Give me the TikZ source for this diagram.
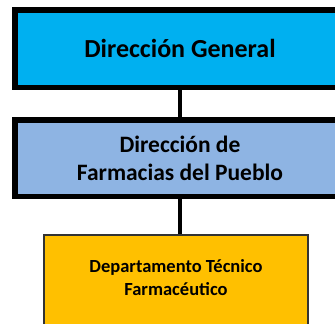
\documentclass[tikz,border=0pt]{standalone}
\usepackage{fontspec}
\setmainfont{Carlito}
\definecolor{dirGen}{HTML}{00B0F0}
\definecolor{dirFarm}{HTML}{8EB4E3}
\definecolor{depTec}{HTML}{FFC000}
\begin{document}
\begin{tikzpicture}[
    x=1pt, y=1pt,
    box/.style={draw=black, line width=5.5pt, align=center, inner sep=0pt,
        font=\fontsize{23.5}{28}\selectfont\bfseries},
    conn/.style={line width=4.5pt, black},
]
\useasboundingbox (0, 0) rectangle (335, 324);
\clip (0, 0) rectangle (335, 324);

% === Top level ===
\node[box, fill=dirGen, minimum width=330, minimum height=77.5,
      font=\fontsize{26}{30}\selectfont\bfseries]
    (general) at (180, 275.25) {Dirección General};

% === Second level ===
\node[box, fill=dirFarm, minimum width=330, minimum height=76.5]
    (farmacias) at (180, 165.75) {Dirección de\\Farmacias del Pueblo};

% === Third level (smaller box, thin border, runs off the page) ===
\node[box, fill=depTec, draw=black!80, line width=1.8pt,
      minimum width=264, minimum height=95, text depth=9pt,
      font=\fontsize{18.5}{23}\selectfont\bfseries]
    (tecnico) at (176, 41.5) {Departamento Técnico\\Farmacéutico};

% Connectors
\draw[conn] (general.south -| 180, 0) -- (farmacias.north -| 180, 0);
\draw[conn] (farmacias.south -| 180, 0) -- (tecnico.north -| 180, 0);

\end{tikzpicture}
\end{document}
